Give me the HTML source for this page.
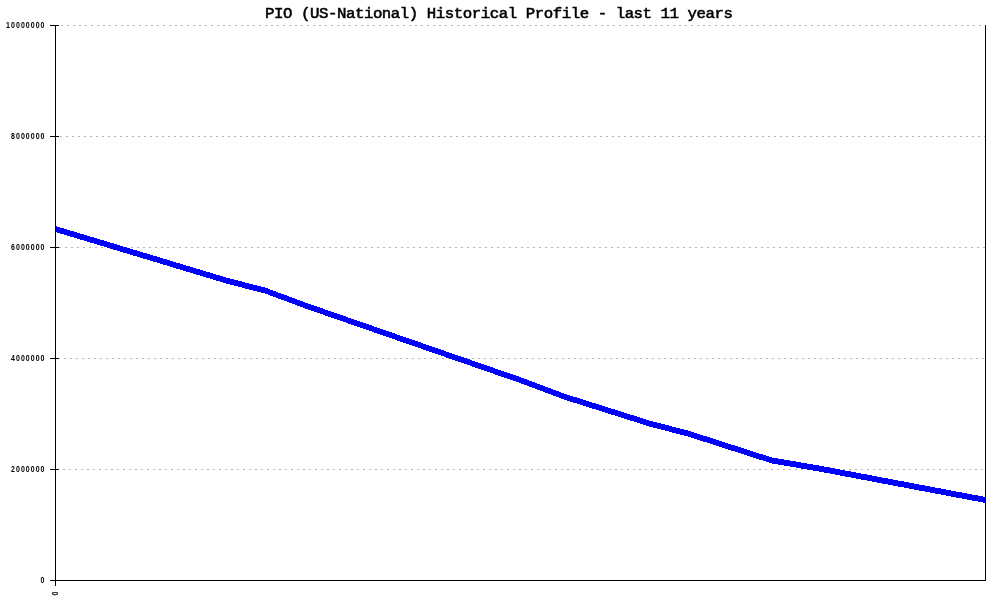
<!DOCTYPE html>
<html><head><meta charset="utf-8"><title>PIO (US-National) Historical Profile - last 11 years</title>
<style>
html,body{margin:0;padding:0;background:#fff;width:1000px;height:600px;overflow:hidden}
svg{display:block}
.title{font-family:"Liberation Mono",monospace;font-size:15px;fill:#000;stroke:#000;stroke-width:0.55px}
.tiny{font-family:"Liberation Sans",sans-serif;font-weight:bold;font-size:7px;fill:#000}
</style></head>
<body>
<svg width="1000" height="600" viewBox="0 0 1000 600">
<rect width="1000" height="600" fill="#fff"/>
<g shape-rendering="crispEdges">
<line x1="55" y1="25.5" x2="985" y2="25.5" stroke="#b4b4b4" stroke-width="1" stroke-dasharray="2 4"/>
<line x1="54" y1="136.5" x2="985" y2="136.5" stroke="#b4b4b4" stroke-width="1" stroke-dasharray="2 4"/>
<line x1="53" y1="247.5" x2="985" y2="247.5" stroke="#b4b4b4" stroke-width="1" stroke-dasharray="2 4"/>
<line x1="52" y1="358.5" x2="985" y2="358.5" stroke="#b4b4b4" stroke-width="1" stroke-dasharray="2 4"/>
<line x1="51" y1="469.5" x2="985" y2="469.5" stroke="#b4b4b4" stroke-width="1" stroke-dasharray="2 4"/>
<polygon points="55,225.85 228,278.05 265,287.5 306,302.75 520.5,377.2 565.5,394 650,420.7 688,430.55 772,457.55 816,464.95 985,496.9 985,502.9 816,470.95 772,463.55 688,436.55 650,426.7 565.5,400 520.5,383.2 306,308.75 265,293.5 228,284.05 55,231.85" fill="#0000ff"/>
<rect x="55" y="25" width="1" height="561" fill="#000"/>
<rect x="985" y="25" width="1" height="556" fill="#000"/>
<rect x="50" y="580" width="936" height="1" fill="#000"/>
<rect x="50" y="25" width="9" height="1" fill="#000"/>
<rect x="50" y="136" width="9" height="1" fill="#000"/>
<rect x="50" y="247" width="9" height="1" fill="#000"/>
<rect x="50" y="358" width="9" height="1" fill="#000"/>
<rect x="50" y="469" width="9" height="1" fill="#000"/>
<rect x="50" y="580" width="9" height="1" fill="#000"/>
</g>
<g style="opacity:0.999">
<text class="title" transform="translate(265,18) scale(1.05,1)" textLength="445.7" lengthAdjust="spacing">PIO (US-National) Historical Profile - last 11 years</text>
<text class="tiny" transform="translate(44.5,28) scale(1,1.2)" text-anchor="end" textLength="38.4" lengthAdjust="spacing">10000000</text>
<text class="tiny" transform="translate(44.5,139) scale(1,1.2)" text-anchor="end" textLength="33.4" lengthAdjust="spacing">8000000</text>
<text class="tiny" transform="translate(44.5,250) scale(1,1.2)" text-anchor="end" textLength="33.4" lengthAdjust="spacing">6000000</text>
<text class="tiny" transform="translate(44.5,361) scale(1,1.2)" text-anchor="end" textLength="33.4" lengthAdjust="spacing">4000000</text>
<text class="tiny" transform="translate(44.5,472) scale(1,1.2)" text-anchor="end" textLength="33.4" lengthAdjust="spacing">2000000</text>
<text class="tiny" transform="translate(44.5,583) scale(1,1.2)" text-anchor="end">0</text>
<text class="tiny" transform="translate(58,595.5) rotate(-90) scale(1,1.2)">0</text>
</g>
</svg>
</body></html>
